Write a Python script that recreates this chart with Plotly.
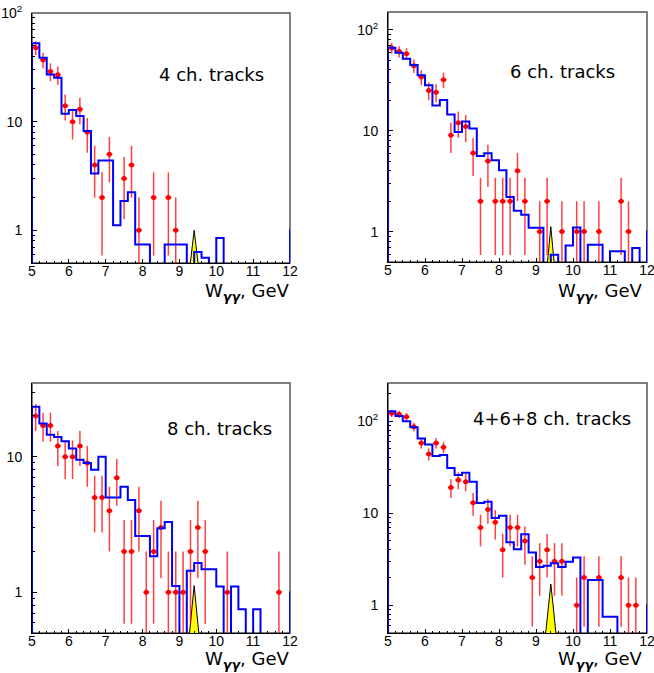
import numpy as np
import plotly.graph_objects as go

# ---------------- data ----------------
# bin edges: 5.0 ... 12.2 GeV in 0.2 GeV steps (36 bins, last bin lies beyond the axis)
bin_edges = [round(5.0 + 0.2 * i, 1) for i in range(37)]
bin_centers = [round(5.1 + 0.2 * i, 1) for i in range(35)]

# Monte-Carlo histograms (blue), one value per 0.2 GeV bin starting at 5.0
hist_4 = [52.6, 38.7, 27.1, 25.3, 11.8, 12.8, 11.3, 8.2, 3.34, 4.4, 4.4, 1.11, 1.86, 2.24,
          0.74, 0.74, 0, 0, 0.74, 0.74, 0.74, 0, 0.63, 0.56, 0, 0.85,
          0, 0, 0, 0, 0, 0, 0, 0, 0, 1]
hist_6 = [66.4, 59.3, 51.7, 44.8, 35.4, 28.2, 17.8, 20.2, 14.5, 9.7, 12.3, 10.5, 5.6, 5.98,
          5.1, 4.06, 2.2, 1.61, 1.47, 1.09, 1.09, 0, 0.59, 0, 0.73, 1.1,
          0, 0.74, 0.74, 0, 0.64, 0.64, 0, 0.69, 0, 1]
hist_8 = [23.4, 17.6, 14.5, 14.0, 13.0, 11.5, 9.5, 9.0, 8.0, 10.0, 5.0, 5.0, 6.0, 4.8,
          2.6, 2.6, 1.84, 2.96, 3.3, 1.11, 0, 1.44, 1.64, 1.48, 1.48, 1.1,
          0, 1.1, 0.75, 0, 0.75, 0, 0, 0, 0, 1]
hist_all = [128, 114, 100, 86, 65, 56, 42, 43, 31, 26, 27.6, 22, 12.9, 13.3,
            8.9, 9.4, 4.85, 4.07, 5.9, 3.75, 2.6, 2.69, 2.87, 2.6, 2.97, 3.31,
            0, 1.88, 1.88, 0.75, 0.75, 0, 0, 0, 0, 1]

# data counts (red points) at bin centres 5.1 ... 11.9
data_4 = [48, 37, 29, 27, 14, 10, 13, 8, 4, 2, 5, 0, 3, 4, 1, 0, 2, 0, 2, 1,
          0, 0, 0, 0, 0, 0, 0, 0, 0, 0, 0, 0, 0, 0, 0]
data_6 = [66, 61, 58, 44, 34, 25, 24, 32, 9, 12, 11, 6, 2, 5, 2, 2, 2, 4, 2, 0,
          1, 2, 0, 1, 0, 1, 1, 0, 1, 0, 0, 2, 1, 0, 0]
data_8 = [20, 17, 17, 12, 10, 10, 12, 9, 5, 5, 4, 7, 2, 2, 4, 1, 2, 3, 1, 1,
          1, 2, 3, 2, 0, 0, 1, 0, 0, 0, 0, 0, 0, 1, 0]
data_all = [122, 119, 112, 87, 58, 44, 58, 52, 19, 23, 22, 13, 7, 11, 8, 4, 7, 7, 5, 2,
            3, 4, 3, 3, 0, 1, 2, 0, 2, 0, 0, 2, 1, 1, 0]

# Upsilon signal shape (yellow)
peak_x = [9.25, 9.30, 9.35, 9.40, 9.45, 9.50, 9.55]
peak_4 = [0.37, 0.51, 0.72, 1.0, 0.72, 0.51, 0.37]
peak_6 = [0.29, 0.46, 0.71, 1.12, 0.71, 0.46, 0.29]
peak_8 = [0.43, 0.59, 0.81, 1.12, 0.81, 0.59, 0.43]
peak_all = [0.45, 0.73, 1.11, 1.7, 1.11, 0.73, 0.45]

labels = ["4 ch. tracks", "6 ch. tracks", "8 ch. tracks", "4+6+8 ch. tracks"]
y_tops = [100, 150, 35, 260]
x_ticks = [5, 6, 7, 8, 9, 10, 11, 12]

# ---------------- layout geometry (pixels) ----------------
W, H = 654, 673
panels = [  # x0, x1, ytop, ybottom
    (32, 290, 13, 263),
    (388, 647, 12, 262),
    (32, 290, 383, 633),
    (388, 647, 383, 633),
]
label_pos = [(266, 74), (617, 72), (274, 428), (633, 418)]
title_pos = [(291, 292), (644, 292), (291, 660), (644, 660)]

hists = [hist_4, hist_6, hist_8, hist_all]
datas = [data_4, data_6, data_8, data_all]
peaks = [peak_4, peak_6, peak_8, peak_all]

TINY = 1e-3
fig = go.Figure()
layout = dict(width=W, height=H, margin=dict(l=0, r=0, t=0, b=0, autoexpand=False),
              paper_bgcolor="white", plot_bgcolor="white", showlegend=False,
              annotations=[], shapes=[])

minor_y = [v * m for m in (0.1, 1, 10, 100) for v in range(2, 10)] + [0.5]

for i in range(4):
    n = "" if i == 0 else str(i + 1)
    xa, ya = "x" + n, "y" + n
    x0, x1, yt, yb = panels[i]
    layout["xaxis" + n] = dict(
        domain=[x0 / W, x1 / W], anchor=ya, range=[5, 12], automargin=False,
        tickvals=x_ticks, ticks="inside", ticklen=4, tickcolor="black",
        minor=dict(ticks="inside", ticklen=2, dtick=0.2, tick0=5, tickcolor="black", showgrid=False),
        showline=True, linecolor="black", linewidth=1, showgrid=False, zeroline=False,
        tickfont=dict(family="Liberation Sans, Arial", size=14, color="black"),
        ticklabelstandoff=-5, ticklabeloverflow="allow",
    )
    layout["yaxis" + n] = dict(
        domain=[1 - yb / H, 1 - yt / H], anchor=xa, type="log", automargin=False,
        range=[np.log10(0.5), np.log10(y_tops[i])],
        tickvals=[1, 10, 100], ticktext=["1", "10", "10<sup>2</sup>"],
        ticks="inside", ticklen=5, tickcolor="black",
        minor=dict(ticks="inside", ticklen=3, tickvals=minor_y, tickcolor="black", showgrid=False),
        showline=True, linecolor="black", linewidth=1, showgrid=False, zeroline=False,
        tickfont=dict(family="Liberation Sans, Arial", size=14, color="black"),
        ticklabelstandoff=6, ticklabeloverflow="allow",
    )
    # frame (top / right in grey)
    layout["shapes"].append(dict(type="rect", xref=xa + " domain", yref=ya + " domain",
                                 x0=0, x1=1, y0=0, y1=1, layer="below",
                                 line=dict(color="#555555", width=1.5)))

    # yellow signal peak
    fig.add_trace(go.Scatter(x=peak_x, y=peaks[i], xaxis=xa, yaxis=ya, mode="lines",
                             fill="toself", fillcolor="#ffff00",
                             line=dict(color="black", width=1), hoverinfo="skip"))

    # data points
    cx = [c for c, v in zip(bin_centers, datas[i]) if v > 0]
    cy = [v for v in datas[i] if v > 0]
    err = list(np.sqrt(cy))
    fig.add_trace(go.Scatter(x=cx, y=cy, xaxis=xa, yaxis=ya, mode="markers",
                             marker=dict(color="#ff0000", size=5),
                             error_y=dict(type="data", array=err, color="rgba(255,0,0,0.75)",
                                          thickness=1.5, width=0),
                             error_x=dict(type="constant", value=0.08, color="#ff0000",
                                          thickness=1.5, width=0)))

    # MC histogram
    h = [v if v > 0 else TINY for v in hists[i]]
    hx = [bin_edges[0]] + bin_edges[:36] + [bin_edges[36]]
    hy = [TINY] + h + [h[-1]]
    fig.add_trace(go.Scatter(x=hx, y=hy, xaxis=xa, yaxis=ya, mode="lines",
                             line=dict(color="#0000ff", width=2, shape="hv"), hoverinfo="skip"))

    lx, ly = label_pos[i]
    layout["annotations"].append(dict(text=labels[i], xref="paper", yref="paper",
                                      x=lx / W, y=1 - ly / H, xanchor="right", yanchor="middle",
                                      showarrow=False,
                                      font=dict(family="DejaVu Sans", size=18, color="black")))
    tx, ty = title_pos[i]
    layout["annotations"].append(dict(text="W<sub><b><i>γγ</i></b></sub>, GeV", xref="paper", yref="paper",
                                      x=tx / W, y=1 - ty / H, xanchor="right", yanchor="middle",
                                      showarrow=False,
                                      font=dict(family="DejaVu Sans", size=18, color="black")))

fig.update_layout(**layout)
fig.write_html("out.html", config={"displayModeBar": False},
               post_script="document.body.style.margin='0px';")
